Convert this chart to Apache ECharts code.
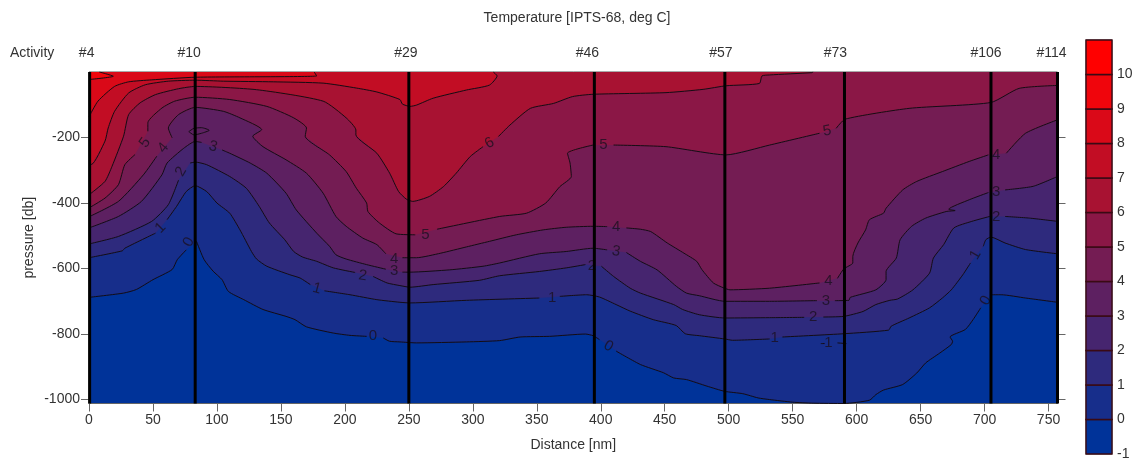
<!DOCTYPE html>
<html><head><meta charset="utf-8">
<style>html,body{margin:0;padding:0;background:#fff}#c{width:1137px;height:461px}</style>
<script src="https://cdn.jsdelivr.net/npm/echarts@6/dist/echarts.min.js"></script>
</head><body><div id="c"></div>
<script>
var stationNames = ['#4','#10','#29','#46','#57','#73','#106','#114'];
var stationDistance = [0.5,83,250,395,497,590.5,705,757];
var stationLabelShift = [-3,-6,-3,-7,-4,-9,-5,-6];
var xTicks = [0,50,100,150,200,250,300,350,400,450,500,550,600,650,700,750];
var yTicks = [-1000,-800,-600,-400,-200];
var barLevels = [-1,0,1,2,3,4,5,6,7,8,9,10];
var barTicks = [-1,0,1,2,3,4,5,6,7,8,9,10];
var bandColors = ['#003399','#172E8B','#2E2A7D','#46256F','#5D2061','#741C53','#8B1746','#A81232','#C20D24','#DA0918','#F0050C','#FF0000'];

var contour0 = [[0,-688],[27,-675],[37,-664],[50,-634],[65,-603],[69,-573],[76,-543],null,[84,-517],[90,-573],[97,-608],[104,-634],[109,-670],[121,-695],[136,-725],[154,-746],[161,-756],[170,-778],[191,-797],[204,-804],[217,-807],null,[230,-812],[235,-822],[243,-824],[256,-827],[295,-824],[321,-820],[337,-809],[360,-807],[388,-800],[394,-805],[399,-817],null,[412,-852],[431,-893],[449,-918],[457,-934],[467,-939],[483,-959],[497,-975],[511,-982],[523,-995],[532,-1000],[550,-1008],[566,-1011],[590,-1012],[610,-1002],[615,-985],[621,-971],[636,-954],[647,-919],[654,-888],[665,-858],[674,-832],[675,-822],[673,-809],[685,-786],[691,-756],[697,-720],null,[705,-680],[713,-680],[732,-690],[757,-703]];
var contour1 = [[0,-567],[26,-546],[28,-538],[52,-492],null,[61,-451],[68.5,-410],[76,-365],[83,-347],[92,-365],[100,-400],[110,-431],[118,-482],[127,-548],[131,-571],[139,-593],[157,-619],[165,-629],[173,-649],null,[184,-668],[204,-680],[225,-695],[243,-703],[251,-705],[295,-697],[352,-690],null,[368,-685],[389,-680],[399,-687],[412,-710],[423,-730],[441,-756],[459,-774],[466,-799],[477,-805],[497,-815],[503,-819],[532,-815],null,[542,-809],[590,-799],[625,-788],[627,-776],[641,-751],[657,-720],[667,-690],[674,-665],[683,-619],[689,-583],null,[699,-532],[701,-512],[705,-504],[716,-522],[732,-542],[757,-555]];
var contour2 = [[0,-525],[23,-502],[49,-456],[62,-405],[70,-330],null,[79,-278],[83,-275],[92,-283],[110,-319],[123,-355],[133,-410],[141,-461],[153,-512],[160,-548],[167,-565],[178,-578],[191,-598],[208,-612],null,[222,-624],[233,-644],[243,-652],[251,-657],[269,-649],[305,-636],[321,-622],[352,-609],[373,-598],[388,-588],null,[400.5,-593],[410,-624],[423,-660],[431,-675],[457,-710],[464,-725],[477,-741],[497,-751],[532,-750],[559,-749],null,[574,-748],[590,-746],[605,-731],[615,-710],[626,-697],[632,-693],[644,-665],[657,-614],[660,-568],[668,-527],[676,-476],[690,-456],[704,-441],null,[716,-441],[735,-446],[757,-456]];
var contour3 = [[0,-476],[23,-441],[41,-395],[57,-314],[61,-278],[74,-233],[83,-212],[88,-215],null,[104,-238],[110,-248],[126,-278],[139,-309],[154,-370],[162,-421],[178,-492],[188,-532],[193,-558],[201,-571],[217,-588],[232,-602],null,[245,-611],[251,-611],[282,-604],[308,-593],[321,-583],[352,-555],[373,-548],[394,-538],[405,-543],null,[420,-551],[431,-578],[444,-604],[459,-654],[467,-675],[477,-683],[497,-700],[532,-700],[569,-698],null,[583,-698],[594,-697],[595,-688],[615,-665],[623,-634],[623,-609],[631,-568],[634,-512],[643,-471],[654,-446],[670,-426],[677,-423],[672,-419],[688,-390],[703,-368],null,[716,-360],[738,-349],[757,-319]];
var contour4 = [[0,-442],[23,-395],[42.5,-314],[53,-257],null,[65,-201],[62,-171],[70,-130],[83,-108],[105,-120],[118,-140],[135,-176],[128,-196],[136,-228],[154,-268],[170,-309],[183,-370],[193,-441],[201,-471],[214,-507],[225,-527],[232,-555],null,[245,-567],[256,-567],[275,-553],[295,-534],[313,-517],[334,-497],[355,-482],[373,-474],[394,-471],[405,-472],null,[420,-476],[431,-480],[439,-487],[452,-522],[465,-553],[475,-578],[479,-603],[488,-644],[496,-659],[501,-665],[532,-660],[571,-644],null,[585,-630],[590,-601],[597,-583],[597,-563],[601,-522],[607,-482],[610,-451],[621,-431],[623,-416],[636,-360],[647,-334],[667,-304],[688,-273],[703,-253],null,[717,-248],[732,-187],[757,-146]];
var contour5 = [[0,-415],[12.5,-385],[23,-344],[28,-283],[36,-252],null,[46,-181],[46,-155],[57,-110],[67,-89],[83,-77],[110,-84],[139,-105],[160,-140],[170,-171],[169,-196],[188,-253],[201,-304],[209,-355],[217,-400],[218,-426],[227,-461],[240,-494],[255,-497],null,[272,-480],[321,-441],[342,-431],[357,-400],[368,-350],[377,-319],[376,-278],[374,-248],[394,-223],null,[410,-223],[451,-228],[498,-253],[532,-223],[571,-187],null,[584,-172],[591,-144],[641,-111],[705,-93],[727,-50],[757,-41]];
var contour6 = [[0,-375],[12.5,-334],[18,-288],[27,-196],[31,-130],[40,-94],[52,-69],[70,-51],[83,-44],[131,-54],[183,-89],[201,-140],[208.6,-177],[208.6,-192],[225,-248],[235,-309],[242,-365],[248,-388],[253,-395],[266,-380],[277,-350],[287,-309],[298,-258],[308,-228],null,[320,-197],[329,-162],[345,-111],[363,-96],[378,-75],[394,-68],[451,-63],[480,-53],[498,-42],[524,-35],[526,-12],[532,-9],[565,-2],[566,0]];
var contour7 = [[0,-278],[2,-282],[12.5,-211],[15,-171],[20,-120],[31,-64],[44,-39],[62,-28],[83,-25],[105,-28],[144,-30],[183,-34],[209,-49],[225,-61],[243,-84],[245,-98],[251,-105],[256,-101],[269,-80],[295,-55],[313,-40],[319,-12],[316,0]];
var contour8 = [[0,-137],[7,-89],[20,-44],[31,-30],[49,-24],[83,-16],[178,-12],[176,0]];
var contour9 = [[0,-23],[19,-13],[11,-3],[8,0]];
var closedRing3 = [[78,-182],[82,-172],[88,-170],[94,-178],[88,-187],[82,-192],[78,-182]];
var stray1a = [[572,-829],[575,-829]];
var stray1b = [[585,-827],[592,-829]];

var contours = [contour0,contour1,contour2,contour3,contour4,contour5,contour6,contour7,contour8,contour9];
var contourLabels = [
 ['5',43.7,-216,55],['4',58,-232,50],['3',97,-228,-15],['2',72,-304,60],['1',56,-476,45],['0',78,-519,60],
 ['1',178,-661,-15],['2',214,-622,-8],['3',238.5,-606,0],['4',238.5,-571,0],['0',222,-807,0],['5',263,-497,0],
 ['6',313,-217,30],['1',362,-688,0],['2',393,-593,0],['3',412,-548,-10],['4',412,-474,0],['5',402,-223,0],
 ['0',406,-837,-30],['1',536,-812,0],['2',566,-749,0],['3',576,-698,0],['4',578,-639,0],['5',577,-180,10],
 ['1',578,-827,0],['1',693,-558,60],['0',701,-698,60],['4',709,-253,0],['3',709,-365,0],['2',709,-443,0]
];

var font = 'Liberation Sans, Arial, sans-serif';
var textColor = '#333';
var series = [];

contours.forEach(function(c,i){
  var pts = c.filter(function(p){return p;});
  series.push({
    type:'custom', xAxisIndex:0, yAxisIndex:0, silent:true, clip:true, z:2+i*0.01,
    data:pts, encode:{x:0,y:1},
    renderItem:function(params,api){
      if(params.dataIndex!==0) return null;
      var poly = pts.map(function(p){return api.coord(p);});
      var last = pts[pts.length-1];
      poly.push(api.coord([last[0],0]));
      poly.push(api.coord([0,0]));
      return {type:'polygon',shape:{points:poly},style:{fill:bandColors[i+1],stroke:null}};
    }
  });
});
function lineSeries(d){
  return {type:'line',xAxisIndex:0,yAxisIndex:0,silent:true,symbol:'none',z:4,connectNulls:false,smooth:0.2,
    lineStyle:{color:'#140c14',width:1},
    data:d.map(function(p){return p||['-','-'];})};
}
contours.forEach(function(c){series.push(lineSeries(c));});
[closedRing3,stray1a,stray1b].forEach(function(c){series.push(lineSeries(c));});

series.push({
  type:'scatter',xAxisIndex:0,yAxisIndex:0,silent:true,symbol:'circle',symbolSize:0,z:5,
  data:contourLabels.map(function(l){
    return {value:[l[1],l[2]],label:{show:true,formatter:l[0],rotate:l[3],position:'inside',
      color:'#1a1020',fontSize:15,fontFamily:font}};
  })
});

stationDistance.forEach(function(d,i){
  series.push({
    type:'line',xAxisIndex:0,yAxisIndex:0,silent:true,symbol:'circle',symbolSize:0,z:6,clip:false,
    lineStyle:{color:'#000',width:3},
    data:[[d,-1012],{value:[d,0],label:{show:true,formatter:stationNames[i],position:'top',distance:12,
      offset:[stationLabelShift[i],0],color:textColor,fontSize:14,fontFamily:font}}]
  });
});

series.push({
  type:'custom',xAxisIndex:1,yAxisIndex:2,silent:true,z:3,
  data:barLevels.map(function(l){return [0,l];}),encode:{y:1},
  renderItem:function(params,api){
    var lo=api.value(1);
    var a=api.coord([0,lo+1]),b=api.coord([1,lo]);
    return {type:'rect',shape:{x:a[0],y:a[1],width:b[0]-a[0],height:b[1]-a[1]},
      style:{fill:bandColors[params.dataIndex],stroke:'#3a0a14',lineWidth:1.4}};
  }
});

var option = {
  animation:false,
  backgroundColor:'#fff',
  title:{text:'Temperature [IPTS-68, deg C]',left:572,top:6,textAlign:'center',
    textStyle:{fontFamily:font,fontSize:14,fontWeight:'normal',color:textColor}},
  graphic:[{type:'text',left:10,top:46,style:{text:'Activity',font:'14px '+font,fill:textColor}}],
  grid:[
    {left:89,top:72,width:968.5,height:331.5,show:true,backgroundColor:bandColors[0],borderColor:'#555',borderWidth:1},
    {left:1086,top:40,width:26,height:416,show:true,backgroundColor:'transparent',borderColor:'#666',borderWidth:1}
  ],
  xAxis:[
    {type:'value',gridIndex:0,min:0,max:757,name:'Distance [nm]',nameLocation:'middle',nameGap:35,
     nameTextStyle:{fontFamily:font,fontSize:14,color:textColor},
     splitLine:{show:false},axisLine:{show:true,onZero:false,lineStyle:{color:'#666'}},
     axisTick:{show:true,length:8,customValues:xTicks,lineStyle:{color:'#666'}},
     axisLabel:{customValues:xTicks,margin:10,fontFamily:font,fontSize:14,color:textColor}},
    {type:'value',gridIndex:1,min:0,max:1,show:false,splitLine:{show:false}}
  ],
  yAxis:[
    {type:'value',gridIndex:0,min:-1012,max:0,position:'left',name:'pressure [db]',nameLocation:'middle',nameRotate:90,nameGap:53,nameMoveOverlap:false,
     nameTextStyle:{fontFamily:font,fontSize:14,color:textColor},
     splitLine:{show:false},axisLine:{show:false,onZero:false},
     axisTick:{show:true,length:8,customValues:yTicks,lineStyle:{color:'#666'}},
     axisLabel:{customValues:yTicks,margin:9,fontFamily:font,fontSize:14,color:textColor,
       formatter:function(v){return String(v);}}},
    {type:'value',gridIndex:0,min:-1012,max:0,position:'right',
     splitLine:{show:false},axisLine:{show:false,onZero:false},
     axisTick:{show:true,length:8,customValues:yTicks,lineStyle:{color:'#666'}},
     axisLabel:{show:false}},
    {type:'value',gridIndex:1,min:-1,max:11,position:'right',
     splitLine:{show:false},axisLine:{show:false,onZero:false},
     axisTick:{show:false},
     axisLabel:{customValues:barTicks,margin:5,fontFamily:font,fontSize:14,color:textColor}}
  ],
  series:series
};
var chart = echarts.init(document.getElementById('c'),null,{renderer:'canvas'});
chart.setOption(option);
</script></body></html>
